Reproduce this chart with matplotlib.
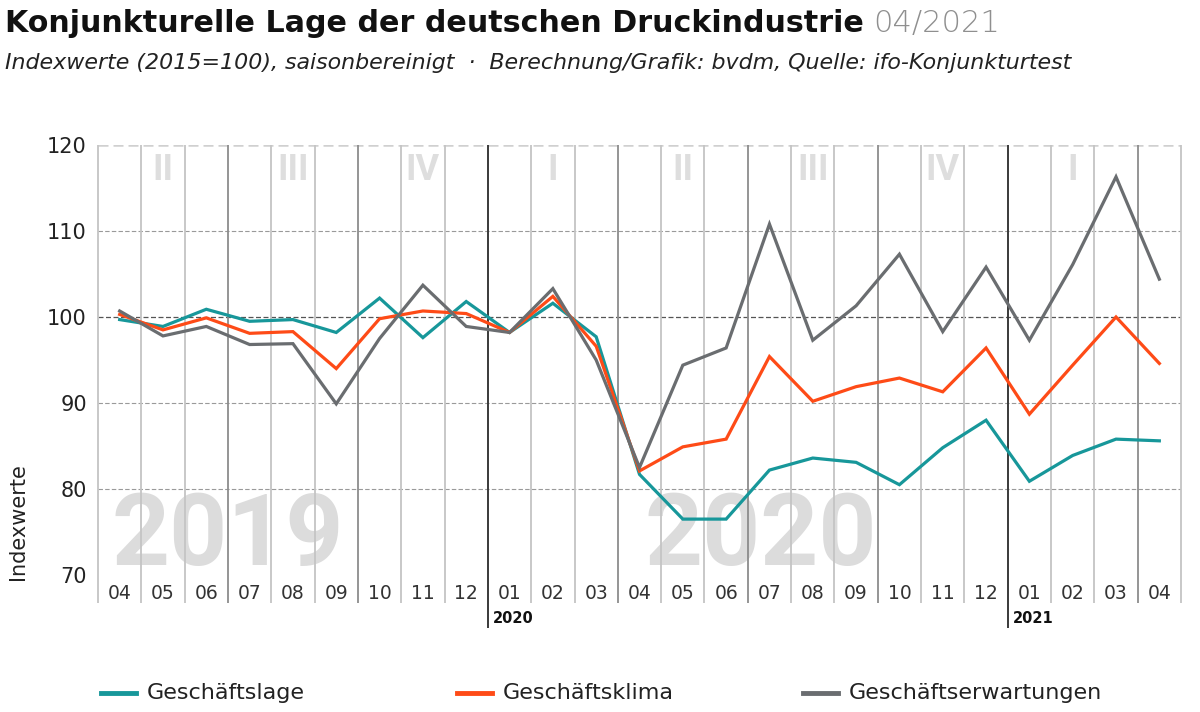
import matplotlib
matplotlib.use("Agg")
import matplotlib.pyplot as plt
from matplotlib.lines import Line2D
import numpy as np

plt.rcParams["font.family"] = ["DejaVu Sans"]

# data: ifo index values (2015=100), 04/2019 .. 04/2021
months = ["04", "05", "06", "07", "08", "09", "10", "11", "12",
          "01", "02", "03", "04", "05", "06", "07", "08", "09", "10", "11", "12",
          "01", "02", "03", "04"]
lage = [99.7, 98.9, 100.9, 99.5, 99.7, 98.2, 102.2, 97.6, 101.8,
        98.2, 101.6, 97.7, 81.7, 76.5, 76.5, 82.2, 83.6, 83.1, 80.5, 84.8, 88.0,
        80.9, 83.9, 85.8, 85.6]
klima = [100.3, 98.5, 99.9, 98.1, 98.3, 94.0, 99.8, 100.7, 100.4,
         98.2, 102.4, 96.6, 82.1, 84.9, 85.8, 95.4, 90.2, 91.9, 92.9, 91.3, 96.4,
         88.7, 94.4, 100.0, 94.6]
erwartungen = [100.7, 97.8, 98.9, 96.8, 96.9, 89.9, 97.5, 103.7, 98.9,
               98.2, 103.3, 95.0, 82.5, 94.4, 96.4, 110.8, 97.3, 101.3, 107.3, 98.3, 105.8,
               97.3, 106.1, 116.3, 104.4]
series_names = ["Geschäftslage", "Geschäftsklima", "Geschäftserwartungen"]
colors = ["#17979a", "#fe4b17", "#6a6d70"]

quarters = ["II", "III", "IV", "I", "II", "III", "IV", "I"]
quarter_pos = [1, 4, 7, 10, 13, 16, 19, 22]
years_bg = ["2019", "2020"]
years_bg_pos = [2.5, 14.8]
year_marks = ["2020", "2021"]
year_mark_pos = [8.5, 20.5]

x = np.arange(len(months))

fig = plt.figure(figsize=(12, 7.12), dpi=100)
ax = fig.add_axes([98 / 1200, 137 / 712, 1083 / 1200, 430 / 712])
ax.set_xlim(-0.5, len(months) - 0.5)
ax.set_ylim(70, 120)
for s in ax.spines.values():
    s.set_visible(False)

# background watermarks (big years, quarter numerals)
for lbl, p in zip(years_bg, years_bg_pos):
    ax.text(p, 68.85, lbl, ha="center", va="bottom", fontsize=73,
            fontweight="bold", color="#dcdcdc", family=["Roboto", "DejaVu Sans"], zorder=0)
for lbl, p in zip(quarters, quarter_pos):
    ax.text(p, 117.1, lbl, ha="center", va="center", fontsize=26,
            fontweight="bold", color="#dedede", family=["Roboto", "DejaVu Sans"], zorder=0)

# horizontal grid
for yv in [80, 90, 110]:
    ax.axhline(yv, color="#9a9a9a", lw=0.8, ls=(0, (4, 2)), zorder=1)
ax.axhline(100, color="#555555", lw=0.9, ls=(0, (4, 2)), zorder=1)
ax.axhline(120, color="#d0d0d0", lw=1.8, ls=(0, (4, 2)), zorder=1)

# vertical month boundaries
bounds = np.arange(-0.5, len(months), 1.0)
for b in bounds:
    if b in year_mark_pos:
        ax.vlines(b, 63.8, 120, color="#3a3a3a", lw=1.4, clip_on=False, zorder=2)
    elif (b + 0.5) % 3 == 0 and 0 < b < 24:
        ax.vlines(b, 66.7, 120, color="#8c8c8c", lw=1.3, clip_on=False, zorder=1)
    else:
        ax.vlines(b, 66.7, 120, color="#c4c4c4", lw=1.3, clip_on=False, zorder=1)

# series
for vals, name, c in zip([lage, klima, erwartungen], series_names, colors):
    ax.plot(x, vals, color=c, lw=2.3, label=name, zorder=3, solid_joinstyle="miter")

# ticks
ax.set_xticks([])
ax.set_yticks([70, 80, 90, 100, 110, 120])
ax.tick_params(axis="y", length=0, pad=8, labelsize=15, labelcolor="#222222")
for i, m in enumerate(months):
    ax.text(i, 67.9, m, ha="center", va="center", fontsize=13.5, color="#333333")
for lbl, p in zip(year_marks, year_mark_pos):
    ax.text(p + 0.12, 64.9, lbl, ha="left", va="center", fontsize=10.5,
            fontweight="bold", color="#111111")

fig.text(18 / 1200, 1 - 522 / 712, "Indexwerte", rotation=90, ha="center", va="center",
         fontsize=15, color="#222222")

# title
t = fig.text(5 / 1200, 1 - 32 / 712, "Konjunkturelle Lage der deutschen Druckindustrie",
             fontsize=21.7, fontweight="bold", color="#111111", va="baseline")
fig.canvas.draw()
bb = t.get_window_extent()
fig.text((bb.x1 + 9) / 1200, 1 - 32 / 712, "04/2021", fontsize=22, fontweight="light",
         color="#8f8f8f", va="baseline")
fig.text(5 / 1200, 1 - 69 / 712,
         "Indexwerte (2015=100), saisonbereinigt  ·  Berechnung/Grafik: bvdm, Quelle: ifo-Konjunkturtest",
         fontsize=15.9, style="italic", color="#222222", va="baseline")

# legend
leg_x = [101, 457, 803]
ly = 1 - 693 / 712
for lx, name, c in zip(leg_x, series_names, colors):
    fig.add_artist(Line2D([lx / 1200, (lx + 35) / 1200], [ly, ly], color=c, lw=3.5))
    fig.text((lx + 46) / 1200, ly, name, va="center", ha="left", fontsize=16, color="#222222")

fig.savefig("out.png", dpi=100)
